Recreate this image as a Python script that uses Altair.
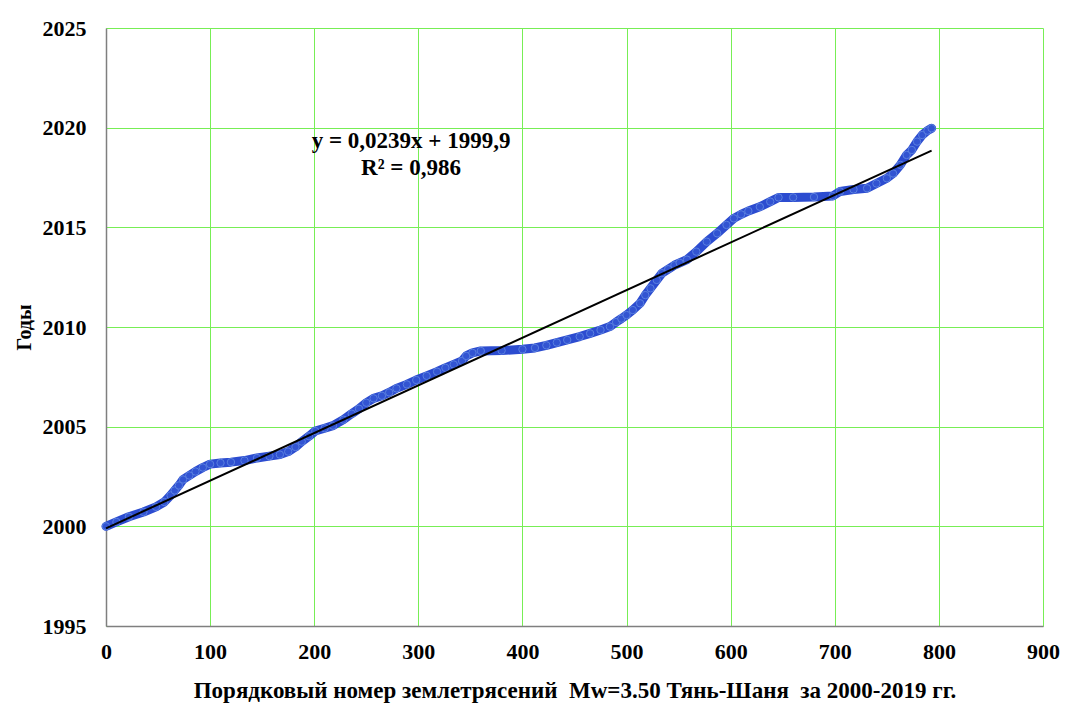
import altair as alt
import pandas as pd

# Sequence number of earthquake and year
eq_index = [0, 10, 22, 36, 48, 56, 62, 66, 70, 74, 80, 86, 93, 100, 110, 120, 133, 145,
            157, 167, 175, 182, 188, 195, 201, 210, 218, 228, 236, 243, 250, 257, 265,
            272, 279, 289, 298, 308, 318, 326, 334, 342, 346, 352, 360, 380, 400, 412,
            423, 433, 443, 455, 465, 475, 484, 490, 495, 500, 506, 513, 518, 523, 529,
            534, 540, 546, 551, 558, 567, 577, 587, 596, 603, 610, 617, 628, 638, 646,
            660, 680, 698, 705, 718, 731, 740, 750, 756, 763, 769, 774, 779, 784, 789, 793]
eq_year = [2000.00, 2000.22, 2000.48, 2000.72, 2000.98, 2001.22, 2001.55, 2001.80, 2002.05,
           2002.35, 2002.55, 2002.75, 2002.95, 2003.12, 2003.18, 2003.22, 2003.30, 2003.43,
           2003.52, 2003.60, 2003.75, 2003.98, 2004.25, 2004.52, 2004.78, 2004.92, 2005.05,
           2005.35, 2005.65, 2005.90, 2006.20, 2006.42, 2006.55, 2006.72, 2006.92, 2007.12,
           2007.34, 2007.55, 2007.76, 2007.95, 2008.12, 2008.30, 2008.55, 2008.70, 2008.80,
           2008.82, 2008.88, 2008.95, 2009.08, 2009.22, 2009.35, 2009.52, 2009.68, 2009.85,
           2010.02, 2010.25, 2010.42, 2010.60, 2010.85, 2011.19, 2011.60, 2011.94, 2012.36,
           2012.70, 2012.90, 2013.10, 2013.22, 2013.38, 2013.78, 2014.28, 2014.70, 2015.12,
           2015.45, 2015.65, 2015.82, 2016.03, 2016.29, 2016.50, 2016.50, 2016.52, 2016.57,
           2016.80, 2016.90, 2016.96, 2017.20, 2017.46, 2017.70, 2018.13, 2018.63, 2018.88,
           2019.30, 2019.63, 2019.85, 2019.97]

# Linear trend shown on the chart: y = 0,0239x + 1999,9
trend_slope = 0.0239
trend_intercept = 1999.9
trend_x = [0, 793]

eq_lines = ["y = 0,0239x + 1999,9", "R² = 0,986"]
eq_x = [293, 293]
eq_y = [2019.33, 2017.98]

x_ticks = [0, 100, 200, 300, 400, 500, 600, 700, 800, 900]
y_ticks = [1995, 2000, 2005, 2010, 2015, 2020, 2025]

FONT = "Liberation Serif"
GRID = "#77ee55"
X_TITLE = "Порядковый номер землетрясений \u00a0Mw=3.50 Тянь-Шаня \u00a0за 2000-2019 гг."

df = pd.DataFrame({"n": eq_index, "year": eq_year})
trend = pd.DataFrame({"n": trend_x, "year": [trend_intercept + trend_slope * v for v in trend_x]})
labels = pd.DataFrame({"n": eq_x, "year": eq_y, "t": eq_lines})

xscale = alt.Scale(domain=[0, 900], nice=False, zero=False)
yscale = alt.Scale(domain=[1995, 2025], nice=False, zero=False)

xaxis = alt.Axis(values=x_ticks, title=X_TITLE,
                 grid=True, gridColor=GRID, gridWidth=1, ticks=False, domainColor="#7f7f7f",
                 domainWidth=1.5, labelFont=FONT, labelFontSize=22, labelFontWeight="bold",
                 labelColor="black", labelPadding=15, titleFont=FONT, titleFontSize=23,
                 titleFontWeight="bold", titleColor="black", titleY=64, titleBaseline="middle",
                 labelFlush=False)
yaxis = alt.Axis(values=y_ticks, title="Годы", format="d", grid=True, gridColor=GRID, gridWidth=1,
                 ticks=False, domainColor="#7f7f7f", domainWidth=1.5, labelFont=FONT,
                 labelFontSize=22, labelFontWeight="bold", labelColor="black", labelPadding=20,
                 titleFont=FONT, titleFontSize=20, titleFontWeight="bold", titleColor="black",
                 titleAngle=-90, titleX=-82, titleY=299, titleBaseline="middle", titleAlign="center",
                 labelFlush=False)

base = alt.Chart(df)

band = base.mark_line(color="#2c4cd0", strokeWidth=9, strokeCap="round", strokeJoin="round").encode(
    x=alt.X("n:Q", scale=xscale, axis=xaxis),
    y=alt.Y("year:Q", scale=yscale, axis=yaxis),
)
pts = base.mark_circle(size=55, color="#3254d2", stroke="#5a80e0", strokeWidth=1, opacity=1).encode(
    x=alt.X("n:Q", scale=xscale),
    y=alt.Y("year:Q", scale=yscale),
)
trend_line = alt.Chart(trend).mark_line(color="black", strokeWidth=2).encode(
    x=alt.X("n:Q", scale=xscale),
    y=alt.Y("year:Q", scale=yscale),
)
text = alt.Chart(labels).mark_text(font=FONT, fontSize=23, fontWeight="bold", color="black",
                                   align="center", baseline="middle").encode(
    x=alt.X("n:Q", scale=xscale),
    y=alt.Y("year:Q", scale=yscale),
    text="t:N",
)
border = alt.Chart(pd.DataFrame({"a": [0]})).mark_rule(color="#d9d9d9", strokeWidth=1.5, clip=False).encode(
    x=alt.value(-98), x2=alt.value(954), y=alt.value(-22)
)

chart = alt.layer(band, pts, trend_line, text, border).properties(
    width=937, height=598,
    autosize=alt.AutoSizeParams(type="none"),
    padding={"left": 98, "top": 20, "right": 17, "bottom": 77},
).configure_view(stroke=None)

chart.save("out.html", embed_options={"renderer": "svg", "actions": False})
